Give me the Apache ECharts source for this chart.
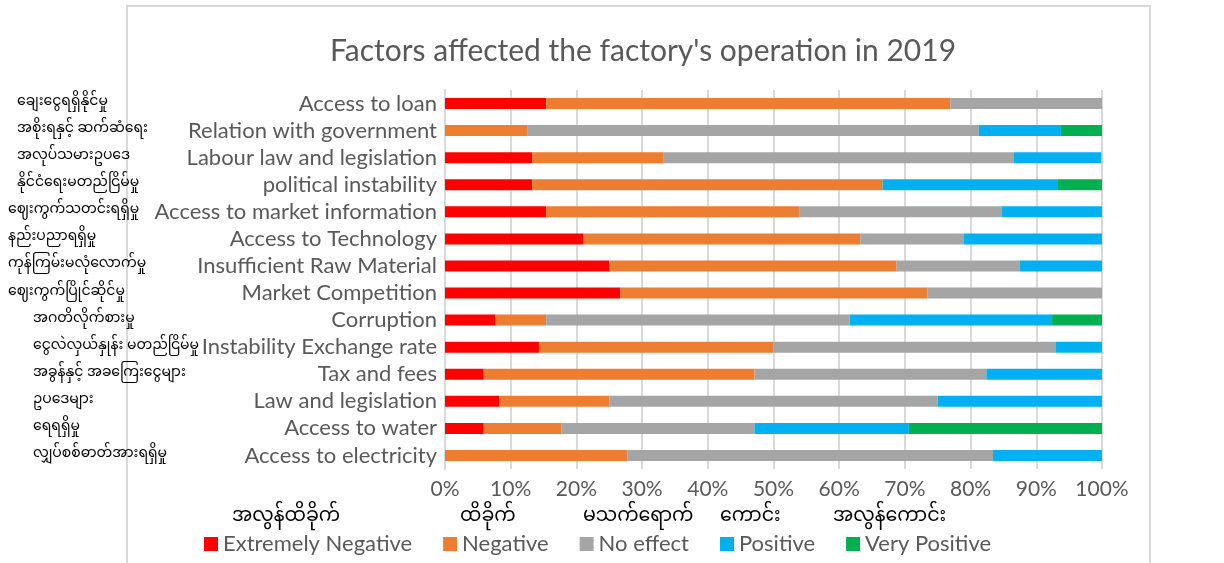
<!DOCTYPE html>
<html>
<head>
<meta charset="utf-8">
<script src="https://cdn.jsdelivr.net/npm/echarts@6/dist/echarts.min.js"></script>
<style>
  html, body { margin: 0; padding: 0; background: #fff; }
  #chart { width: 1224px; height: 563px; }
</style>
</head>
<body>
<div id="chart"></div>
<script>
// 类别（自上而下）
const categories = [
    'Access to loan', 'Relation with government', 'Labour law and legislation',
    'political instability', 'Access to market information', 'Access to Technology',
    'Insufficient Raw Material', 'Market Competition', 'Corruption',
    'Instability Exchange rate', 'Tax and fees', 'Law and legislation',
    'Access to water', 'Access to electricity'
];
const mmCategories = [
    'ချေးငွေရရှိနိုင်မှု', 'အစိုးရနှင့် ဆက်ဆံရေး', 'အလုပ်သမားဥပဒေ',
    'နိုင်ငံရေးမတည်ငြိမ်မှု', 'ဈေးကွက်သတင်းရရှိမှု', 'နည်းပညာရရှိမှု',
    'ကုန်ကြမ်းမလုံလောက်မှု', 'ဈေးကွက်ပြိုင်ဆိုင်မှု', 'အဂတိလိုက်စားမှု',
    'ငွေလဲလှယ်နှုန်း မတည်ငြိမ်မှု', 'အခွန်နှင့် အခကြေးငွေများ', 'ဥပဒေများ',
    'ရေရရှိမှု', 'လျှပ်စစ်ဓာတ်အားရရှိမှု'
];

// 各系列百分比（与类别顺序一致）
const extremelyNegative = [15.4, 0, 13.3, 13.3, 15.4, 21.1, 25.0, 26.7, 7.7, 14.3, 5.9, 8.3, 5.9, 0];
const negative          = [61.5, 12.5, 20.0, 53.3, 38.5, 42.1, 43.75, 46.7, 7.7, 35.7, 41.2, 16.7, 11.8, 27.8];
const noEffect          = [23.1, 68.75, 53.3, 0, 30.8, 15.8, 18.75, 26.7, 46.2, 42.9, 35.3, 50.0, 29.4, 55.6];
const positive          = [0, 12.5, 13.3, 26.7, 15.4, 21.1, 12.5, 0, 30.8, 7.1, 17.6, 25.0, 23.5, 16.7];
const veryPositive      = [0, 6.25, 0, 6.7, 0, 0, 0, 0, 7.7, 0, 0, 0, 29.4, 0];

const seriesNames = ['Extremely Negative', 'Negative', 'No effect', 'Positive', 'Very Positive'];
const mmSeriesNames = ['အလွန်ထိခိုက်', 'ထိခိုက်', 'မသက်ရောက်', 'ကောင်း', 'အလွန်ကောင်း'];

const colors = ['#FF0000', '#ED7D31', '#A5A5A5', '#00B0F0', '#00B050'];
const seriesData = [extremelyNegative, negative, noEffect, positive, veryPositive];

const chart = echarts.init(document.getElementById('chart'));
const font = 'Lato, "Open Sans", sans-serif';
const mmFont = '"Noto Sans Myanmar", "Noto Sans", sans-serif';

// 缅文图例说明的位置
const mmLegendX = [232, 460, 583, 720, 833];

chart.setOption({
    backgroundColor: '#fff',
    animation: false,
    color: colors,
    title: {
        text: "Factors affected the factory's operation in 2019",
        left: 638, top: 31, textAlign: 'center',
        textStyle: { fontFamily: font, fontSize: 30, fontWeight: 'normal', color: '#595959' }
    },
    grid: { left: 445, right: 122, top: 90, bottom: 94, containLabel: false, outerBoundsMode: 'none' },
    legend: {
        data: seriesNames,
        left: 199, top: 528,
        itemWidth: 14, itemHeight: 14, itemGap: 31,
        icon: 'rect',
        textStyle: { fontFamily: font, fontSize: 22, color: '#595959' }
    },
    xAxis: {
        type: 'value', min: 0, max: 100, interval: 10,
        axisLabel: { formatter: '{value}%', fontFamily: font, fontSize: 21, color: '#595959', margin: 10 },
        axisLine: { show: false }, axisTick: { show: false },
        splitLine: { lineStyle: { color: '#d9d9d9', width: 2 } }
    },
    yAxis: [
        {
            type: 'category', data: categories, inverse: true,
            axisLine: { show: true, lineStyle: { color: '#d9d9d9', width: 2 } },
            axisTick: { show: false },
            axisLabel: { interval: 0, hideOverlap: false, fontFamily: font, fontSize: 22, color: '#595959', margin: 8 }
        },
        {
            type: 'category', position: 'left', inverse: true,
            data: mmCategories.map((v, i) => ({
                value: v,
                textStyle: {
                    align: 'left',
                    padding: [0, 0, i < 4 ? 26 : 0, i >= 8 ? 25 : (i < 4 ? 9 : 0)]
                }
            })),
            axisLine: { show: false }, axisTick: { show: false },
            axisLabel: { interval: 0, hideOverlap: false, fontFamily: mmFont, fontSize: 14, color: '#000', align: 'left', margin: 437 }
        }
    ],
    graphic: [
        {
            type: 'rect', shape: { x: 127, y: 6, width: 1023, height: 600 },
            style: { fill: 'none', stroke: '#d9d9d9', lineWidth: 2 }, silent: true, z: -1
        }
    ].concat(mmSeriesNames.map((t, i) => ({
        type: 'text', left: mmLegendX[i], top: 509,
        style: { text: t, fontFamily: mmFont, fontSize: 19, fill: '#000' }
    }))),
    series: seriesNames.map((name, i) => ({
        name, type: 'bar', stack: 'total', barWidth: 11,
        itemStyle: { color: colors[i] },
        data: seriesData[i]
    }))
});
</script>
</body>
</html>
